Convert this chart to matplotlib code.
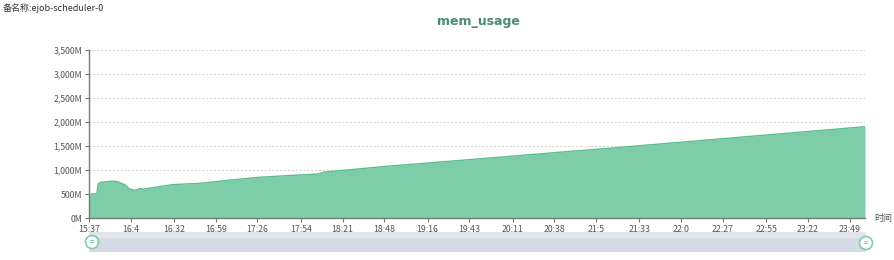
import matplotlib
matplotlib.use("Agg")
import matplotlib.pyplot as plt
from matplotlib.patches import Rectangle, Ellipse

plt.rcParams['font.family'] = ['Noto Sans CJK SC', 'DejaVu Sans']

# minutes since 15:37 and memory usage (M)
minutes = [0, 5, 6, 8, 12, 16, 19, 23, 26, 29, 31, 33, 35, 40, 54, 72, 90, 109, 130, 148,
           153, 175, 195, 220, 250, 280, 310, 344, 380, 420, 460, 502]
mem_mb = [500, 510, 720, 750, 765, 772, 755, 700, 615, 585, 595, 620, 605, 630, 700, 728, 790,
          850, 890, 920, 965, 1029, 1088, 1152, 1230, 1309, 1388, 1476, 1574, 1683, 1791, 1905]

tick_minutes = [0, 27, 55, 82, 109, 137, 164, 191, 219, 246, 274, 301, 328, 356, 383, 410, 438, 465, 492]
tick_labels = ["15:37", "16:4", "16:32", "16:59", "17:26", "17:54", "18:21", "18:48", "19:16",
               "19:43", "20:11", "20:38", "21:5", "21:33", "22:0", "22:27", "22:55", "23:22", "23:49"]
y_ticks = [0, 500, 1000, 1500, 2000, 2500, 3000, 3500]

W, H = 894, 260
fig = plt.figure(figsize=(W / 100, H / 100), dpi=100)
fig.patch.set_facecolor("white")
ax = fig.add_axes([89 / W, 1 - 218.3 / H, (865 - 89) / W, (218.3 - 50) / H])

ax.fill_between(minutes, mem_mb, 0, color="#7dcea8", linewidth=0, zorder=2)
ax.plot(minutes, mem_mb, color="#5cbd8d", linewidth=1.0, zorder=3)

ax.set_xlim(0, 502)
ax.set_ylim(0, 3500)
ax.set_yticks(y_ticks)
ax.set_yticklabels([f"{v:,}M" for v in y_ticks])
ax.set_xticks(tick_minutes)
ax.set_xticklabels(tick_labels)
ax.tick_params(axis="both", labelsize=6.3, colors="#777777", length=3, width=0.8, pad=2)
for lab in ax.get_xticklabels() + ax.get_yticklabels():
    lab.set_color("#555555")

ax.grid(axis="y", color="#d6d6d6", linestyle=(0, (2, 1.5)), linewidth=0.8, zorder=0)
for s in ["top", "right"]:
    ax.spines[s].set_visible(False)
ax.spines["left"].set_color("#777777")
ax.spines["bottom"].set_color("#777777")
ax.spines["left"].set_linewidth(1.0)
ax.spines["bottom"].set_linewidth(1.0)

fig.text(3 / W, 1 - 8 / H, "备名称:ejob-scheduler-0", fontsize=6.5, color="#333333",
         ha="left", va="center")
fig.text(478 / W, 1 - 22 / H, "mem_usage", fontsize=9, fontweight="bold", color="#4a8b72",
         ha="center", va="center", family=["DejaVu Sans"])
fig.text(874 / W, 1 - 219 / H, "时间", fontsize=6.5, color="#555555", ha="left", va="center")

# data zoom slider
slider = Rectangle((89 / W, 1 - 252 / H), (866 - 89) / W, 20 / H, transform=fig.transFigure,
                   facecolor="#d5dae4", edgecolor="none")
fig.patches.append(slider)
slider_top = Rectangle((89 / W, 1 - 238 / H), (866 - 89) / W, 6 / H, transform=fig.transFigure,
                       facecolor="#e3e6ec", edgecolor="none")
fig.patches.append(slider_top)
for hx, hy in [(92, 242), (866, 243)]:
    c = Ellipse((hx / W, 1 - hy / H), 13 / W, 13 / H, transform=fig.transFigure,
                facecolor="white", edgecolor="#7dcea8", linewidth=1.2)
    fig.patches.append(c)
    fig.text(hx / W, 1 - hy / H, "=", fontsize=6, color="#5cbd8d", ha="center", va="center")

fig.savefig("out.png", dpi=100, facecolor="white")
